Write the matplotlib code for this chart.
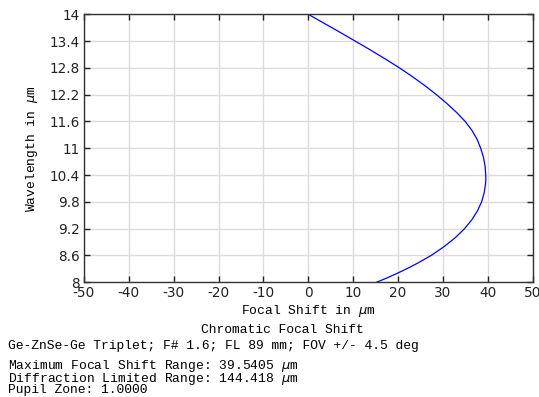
import matplotlib
matplotlib.use('Agg')
import matplotlib.pyplot as plt

# wavelength (um) vs focal shift (um)
wavelength = [14.0, 13.8, 13.6, 13.4, 13.2, 13.0, 12.8, 12.6, 12.4, 12.2, 12.0,
              11.8, 11.6, 11.4, 11.2, 11.0, 10.8, 10.6, 10.4, 10.3, 10.2, 10.0,
              9.8, 9.6, 9.4, 9.2, 9.0, 8.8, 8.6, 8.5, 8.4, 8.3, 8.2, 8.1, 8.0]
focal_shift = [0.0, 3.5, 7.0, 10.45, 13.85, 17.15, 20.3, 23.25, 26.0, 28.55, 30.9,
               33.05, 34.95, 36.45, 37.6, 38.4, 39.0, 39.37, 39.52, 39.54, 39.47, 39.17,
               38.6, 37.68, 36.43, 34.8, 32.76, 30.27, 27.35, 25.63, 23.82, 21.88, 19.8, 17.58, 15.2]

xticks = [-50, -40, -30, -20, -10, 0, 10, 20, 30, 40, 50]
yticks = [8, 8.6, 9.2, 9.8, 10.4, 11, 11.6, 12.2, 12.8, 13.4, 14]

title = 'Chromatic Focal Shift'
subtitle = 'Ge-ZnSe-Ge Triplet; F# 1.6; FL 89 mm; FOV +/- 4.5 deg'
info = ['Maximum Focal Shift Range: 39.5405 $\\mu$m',
        'Diffraction Limited Range: 144.418 $\\mu$m',
        'Pupil Zone: 1.0000']

plt.rcParams['axes.unicode_minus'] = False
mono = 'Liberation Mono'

fig = plt.figure(figsize=(5.39, 3.97), dpi=100)
ax = fig.add_axes([0.1555, 0.289, 0.833, 0.675])

ax.plot(focal_shift, wavelength, color='#0000ff', lw=0.9)

ax.set_xlim(-50, 50)
ax.set_ylim(8, 14)
ax.set_xticks(xticks)
ax.set_yticks(yticks)
ax.set_xticklabels(['%g' % v for v in xticks])
ax.set_yticklabels(['%g' % v for v in yticks])
ax.grid(True, color='#dcdcdc', lw=1)
ax.set_axisbelow(True)
ax.tick_params(direction='in', length=4, width=1, top=True, right=True,
               labelsize=9.8, pad=3, colors='#222222')
for s in ax.spines.values():
    s.set_color('#333333')
    s.set_linewidth(1)

ax.set_xlabel('Focal Shift in $\\mu$m', fontfamily=mono, fontsize=9.4, labelpad=2)
ax.set_ylabel('Wavelength in $\\mu$m', fontfamily=mono, fontsize=9.4, labelpad=7)

fig.text(282 / 539, 1 - 330 / 397, title, ha='center', va='center',
         fontfamily=mono, fontsize=9.4)
fig.text(8 / 539, 1 - 345.5 / 397, subtitle, ha='left', va='center',
         fontfamily=mono, fontsize=9.4)
fig.text(8 / 539, 1 - 377 / 397, '\n'.join(info), ha='left', va='center',
         fontfamily=mono, fontsize=9.4, linespacing=0.74)

plt.savefig('out.png', dpi=100)
